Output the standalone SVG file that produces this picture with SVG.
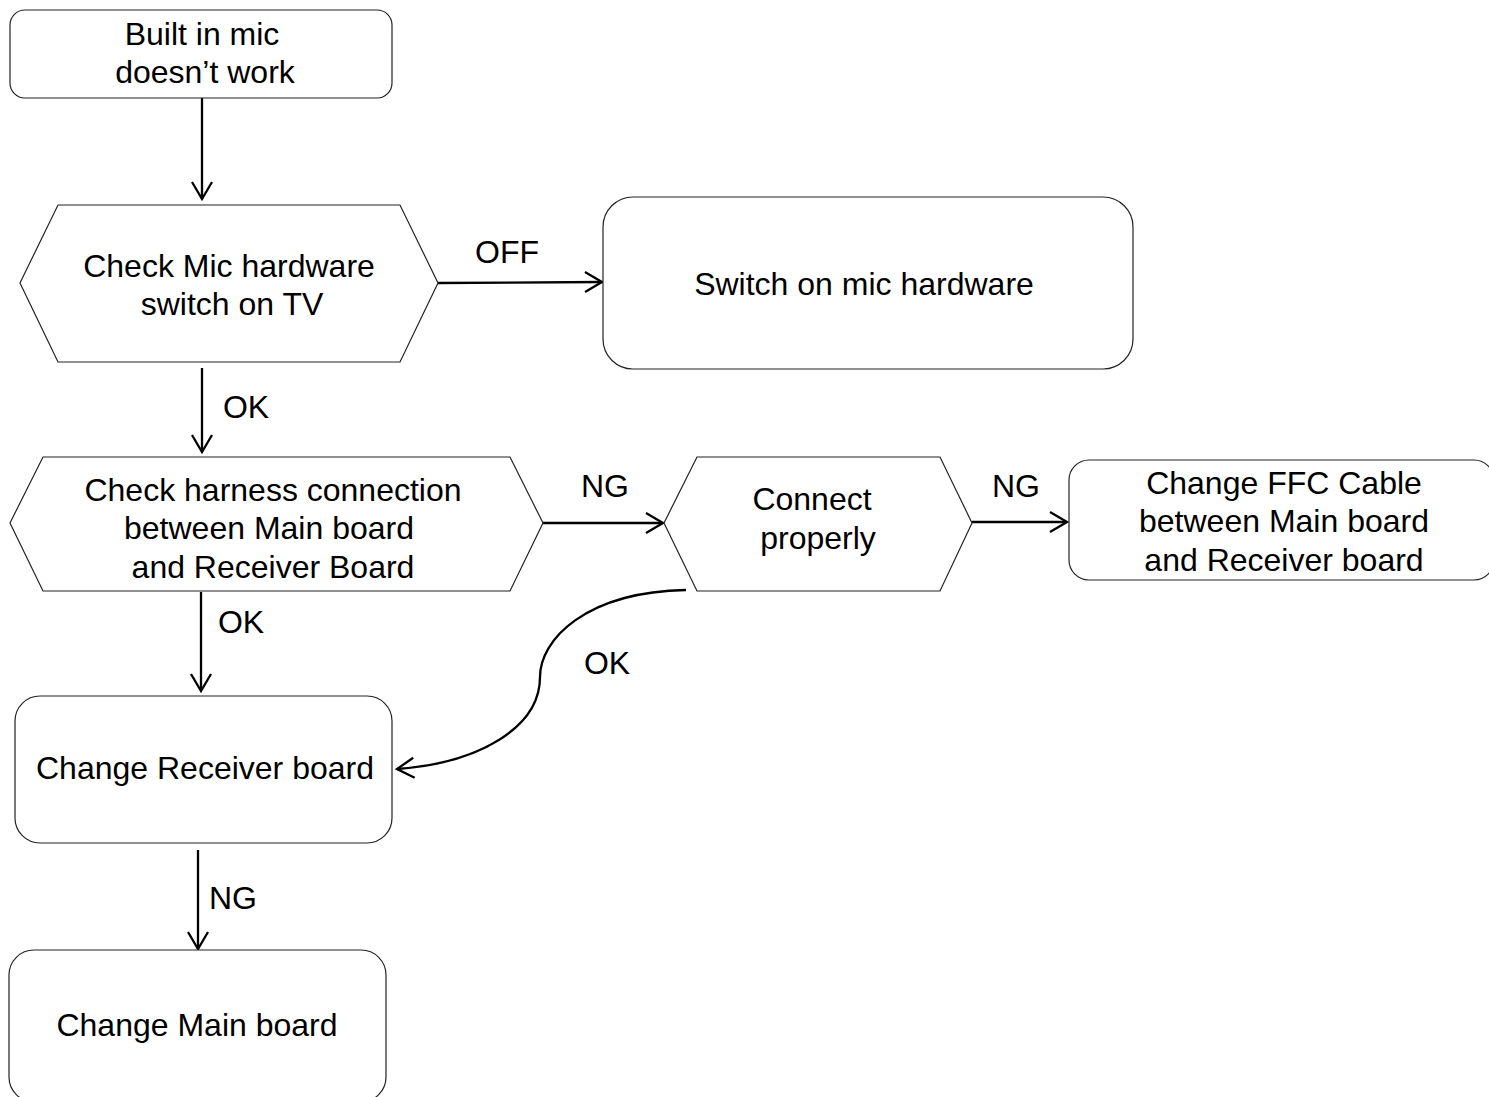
<svg xmlns="http://www.w3.org/2000/svg" width="1489" height="1097" viewBox="0 0 1489 1097">
<style>
.n{fill:#fff;stroke:#222;stroke-width:1.2}
.t{font-family:"Liberation Sans",Arial,sans-serif;font-size:32px;fill:#000;text-anchor:middle;dominant-baseline:central}
.c{fill:none;stroke:#000;stroke-width:2.3}
</style>
<defs>
<marker id="ah" markerUnits="userSpaceOnUse" markerWidth="24" markerHeight="24" viewBox="-20 -12 24 24" refX="0" refY="0" orient="auto">
<path d="M-17,-10 L0,0 L-17,10" fill="none" stroke="#000" stroke-width="2.3"/>
</marker>
</defs>
<rect width="1489" height="1097" fill="#fff"/>
<g id="connectors">
<path class="c" d="M202,98 V199" marker-end="url(#ah)"/>
<path class="c" d="M438,283 L602,282" marker-end="url(#ah)"/>
<path class="c" d="M202,368 V452" marker-end="url(#ah)"/>
<path class="c" d="M543,523 H663" marker-end="url(#ah)"/>
<path class="c" d="M972,522 H1067" marker-end="url(#ah)"/>
<path class="c" d="M201,592 V691" marker-end="url(#ah)"/>
<path class="c" d="M686,590 C585,592 540,640 540,677 C540,727 480,763 397,769" marker-end="url(#ah)"/>
<path class="c" d="M198,850 V949" marker-end="url(#ah)"/>
<text class="t" x="507" y="252">OFF</text>
<text class="t" x="246" y="407">OK</text>
<text class="t" x="605" y="486">NG</text>
<text class="t" x="1016" y="486">NG</text>
<text class="t" x="241" y="622">OK</text>
<text class="t" x="607" y="663">OK</text>
<text class="t" x="233" y="898">NG</text>
</g>
<g id="start">
<rect class="n" x="10" y="10" width="382" height="88" rx="15"/>
<text class="t" x="202" y="34">Built in mic</text>
<text class="t" x="205" y="72">doesn’t work</text>
</g>
<g id="check-switch">
<polygon class="n" points="20,283 58,205 400,205 438,283 400,362 58,362"/>
<text class="t" x="229" y="266">Check Mic hardware</text>
<text class="t" x="232" y="304">switch on TV</text>
</g>
<g id="switch-on">
<rect class="n" x="603" y="197" width="530" height="172" rx="30"/>
<text class="t" x="864" y="284">Switch on mic hardware</text>
</g>
<g id="check-harness">
<polygon class="n" points="10,523 43,457 510,457 543,523 510,591 43,591"/>
<text class="t" x="273" y="490">Check harness connection</text>
<text class="t" x="269" y="528">between Main board</text>
<text class="t" x="273" y="567">and Receiver Board</text>
</g>
<g id="connect">
<polygon class="n" points="664,523 697,457 940,457 972,523 940,591 697,591"/>
<text class="t" x="812" y="499">Connect</text>
<text class="t" x="818" y="538">properly</text>
</g>
<g id="change-ffc">
<rect class="n" x="1069" y="460" width="425" height="120" rx="20"/>
<text class="t" x="1284" y="483">Change FFC Cable</text>
<text class="t" x="1284" y="521">between Main board</text>
<text class="t" x="1284" y="560">and Receiver board</text>
</g>
<g id="change-receiver">
<rect class="n" x="15" y="696" width="377" height="147" rx="25"/>
<text class="t" x="205" y="768">Change Receiver board</text>
</g>
<g id="change-main">
<rect class="n" x="9" y="950" width="377" height="152" rx="25"/>
<text class="t" x="197" y="1025">Change Main board</text>
</g>
</svg>
